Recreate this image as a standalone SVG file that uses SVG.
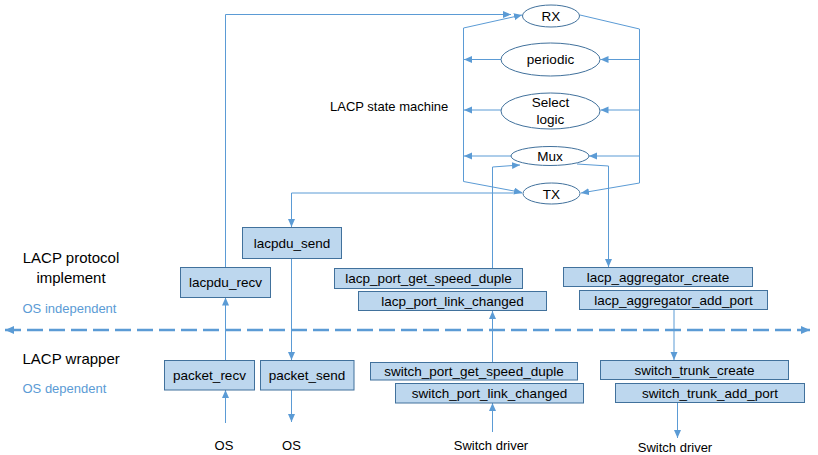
<svg xmlns="http://www.w3.org/2000/svg" width="818" height="455" viewBox="0 0 818 455">
<style>
.bg{fill:#ffffff}
.box{fill:#bdd7ee;stroke:#41719c;stroke-width:1}
.ell{fill:#ffffff;stroke:#41719c;stroke-width:1}
.t{font-family:"Liberation Sans",Arial,sans-serif;font-size:13.5px;fill:#000000;text-anchor:middle}
.lbl{font-family:"Liberation Sans",Arial,sans-serif;font-size:13px;fill:#000000}
.big{font-family:"Liberation Sans",Arial,sans-serif;font-size:15px;fill:#000000}
.os{font-family:"Liberation Sans",Arial,sans-serif;font-size:13px;fill:#5b9bd5}
.c{fill:none;stroke:#5b9bd5;stroke-width:1;marker-end:url(#ah)}
.cn{fill:none;stroke:#5b9bd5;stroke-width:1}
.dash{fill:none;stroke:#5b9bd5;stroke-width:2.5;stroke-dasharray:16 6;marker-start:url(#ahd);marker-end:url(#ahd)}
</style>
<defs>
<marker id="ah" markerUnits="userSpaceOnUse" markerWidth="9" markerHeight="8" refX="8" refY="3.5" orient="auto">
<path d="M0,0 L8,3.5 L0,7 z" fill="#5b9bd5"/>
</marker>
<marker id="ahd" markerUnits="userSpaceOnUse" markerWidth="10" markerHeight="9" refX="9" refY="4" orient="auto-start-reverse">
<path d="M0,0 L9,4 L0,8 z" fill="#5b9bd5"/>
</marker>
</defs>
<rect class="bg" x="0" y="0" width="818" height="455"/>

<g id="connectors">
<path class="c" d="M225.5,267 V14.5 H511"/>
<path class="c" d="M463.5,28 L522,15"/>
<path class="cn" d="M463.5,28 V181.5"/>
<path class="c" d="M463.5,181.5 L522,192.5"/>
<path class="c" d="M580,15 L639.5,29 V183 L581,193"/>
<path class="c" d="M639.5,59.5 H600.5"/>
<path class="c" d="M639.5,110 H600.5"/>
<path class="c" d="M639.5,156 H589"/>
<path class="c" d="M501,59.5 H464"/>
<path class="c" d="M501,110 H464"/>
<path class="c" d="M511.5,156 H464"/>
<path class="c" d="M522,193 H291.5 V227"/>
<path class="c" d="M492.5,268 V167 L520,165"/>
<path class="c" d="M577,164 L608.5,166 V267"/>
<path class="c" d="M225.5,360.5 V297.5"/>
<path class="c" d="M225.5,423 V390"/>
<path class="c" d="M291.5,258.5 V360"/>
<path class="c" d="M291.5,390 V422"/>
<path class="c" d="M492.5,362.5 V311"/>
<path class="c" d="M492.5,432 V403"/>
<path class="c" d="M674,309.5 V360"/>
<path class="c" d="M677.5,403 V438"/>
<path class="dash" d="M5,330 H810"/>
</g>

<g id="RX"><ellipse class="ell" cx="551" cy="16" rx="28.5" ry="11"/><text class="t" x="551" y="21">RX</text></g>
<g id="periodic"><ellipse class="ell" cx="550.5" cy="59.5" rx="49.5" ry="16.5"/><text class="t" x="550.5" y="64">periodic</text></g>
<g id="select_logic"><ellipse class="ell" cx="550.5" cy="111" rx="49.5" ry="18"/><text class="t" x="550.5" y="107">Select</text><text class="t" x="550.5" y="123.5">logic</text></g>
<g id="Mux"><ellipse class="ell" cx="550" cy="156" rx="39" ry="9.5"/><text class="t" x="550" y="161">Mux</text></g>
<g id="TX"><ellipse class="ell" cx="551.5" cy="193.5" rx="28.5" ry="10.5"/><text class="t" x="551.5" y="198.5">TX</text></g>

<g id="lacpdu_send"><rect class="box" x="242.5" y="227.5" width="99" height="31"/><text class="t" x="292" y="247.5">lacpdu_send</text></g>
<g id="lacpdu_recv"><rect class="box" x="180.5" y="267.5" width="90" height="30"/><text class="t" x="225.5" y="287">lacpdu_recv</text></g>
<g id="packet_recv"><rect class="box" x="164.5" y="360.5" width="90" height="29.5"/><text class="t" x="209.5" y="380">packet_recv</text></g>
<g id="packet_send"><rect class="box" x="260.5" y="360.5" width="93.5" height="29.5"/><text class="t" x="307" y="380">packet_send</text></g>
<g id="lacp_port_get_speed_duple"><rect class="box" x="334.5" y="268.5" width="188" height="20"/><text class="t" x="428.5" y="283">lacp_port_get_speed_duple</text></g>
<g id="lacp_port_link_changed"><rect class="box" x="358.5" y="291.5" width="188" height="19"/><text class="t" x="452.5" y="305.5">lacp_port_link_changed</text></g>
<g id="switch_port_get_speed_duple"><rect class="box" x="370.5" y="362.5" width="207" height="17.5"/><text class="t" x="474" y="376">switch_port_get_speed_duple</text></g>
<g id="switch_port_link_changed"><rect class="box" x="395.5" y="383.5" width="188" height="19.5"/><text class="t" x="489.5" y="398">switch_port_link_changed</text></g>
<g id="lacp_aggregator_create"><rect class="box" x="563.5" y="267.5" width="189" height="19"/><text class="t" x="658" y="281.5">lacp_aggregator_create</text></g>
<g id="lacp_aggregator_add_port"><rect class="box" x="579.5" y="290.5" width="188" height="19"/><text class="t" x="673.5" y="304.5">lacp_aggregator_add_port</text></g>
<g id="switch_trunk_create"><rect class="box" x="600.5" y="360.5" width="188" height="19"/><text class="t" x="694.5" y="374.5">switch_trunk_create</text></g>
<g id="switch_trunk_add_port"><rect class="box" x="615.5" y="383.5" width="189" height="19"/><text class="t" x="710" y="397.5">switch_trunk_add_port</text></g>

<g id="labels">
<text class="lbl" x="330" y="110.5">LACP state machine</text>
<text class="big" x="71" y="263" text-anchor="middle">LACP protocol</text>
<text class="big" x="71" y="283" text-anchor="middle">implement</text>
<text class="os" x="22.5" y="312.5">OS independent</text>
<text class="big" x="22.5" y="364">LACP wrapper</text>
<text class="os" x="22.5" y="393">OS dependent</text>
<text class="lbl" x="224" y="450" text-anchor="middle">OS</text>
<text class="lbl" x="291.5" y="450" text-anchor="middle">OS</text>
<text class="lbl" x="491" y="450" text-anchor="middle">Switch driver</text>
<text class="lbl" x="675" y="451.5" text-anchor="middle">Switch driver</text>
</g>
</svg>
